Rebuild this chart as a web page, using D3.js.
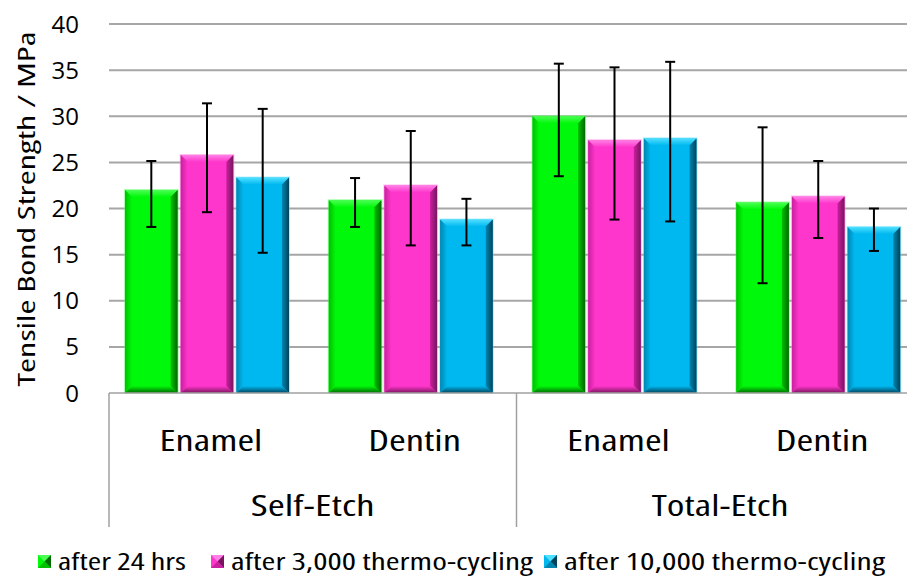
<!DOCTYPE html>
<html><head><meta charset="utf-8">
<script src="https://cdn.jsdelivr.net/npm/d3@7"></script>
<style>body{margin:0;background:#fff}svg{display:block}text{font-family:'Open Sans',sans-serif;font-stretch:80%;font-weight:400;fill:#000}</style>
</head><body><svg id="c" width="907" height="579"></svg>
<script>
const groups = ["Self-Etch", "Total-Etch"];
const categories = ["Enamel", "Dentin", "Enamel", "Dentin"];
const categoryGroup = ["Self-Etch", "Self-Etch", "Total-Etch", "Total-Etch"];
const series = ["after 24 hrs", "after 3,000 thermo-cycling", "after 10,000 thermo-cycling"];
const after24 = [22.0, 20.9, 30.0, 20.65];
const after3000 = [25.8, 22.5, 27.4, 21.3];
const after10000 = [23.35, 18.8, 27.6, 18.0];
const errHigh24 = [25.15, 23.3, 35.7, 28.8];
const errLow24 = [18.0, 18.0, 23.5, 11.9];
const errHigh3000 = [31.4, 28.4, 35.3, 25.15];
const errLow3000 = [19.6, 16.0, 18.8, 16.8];
const errHigh10000 = [30.8, 21.05, 35.9, 20.0];
const errLow10000 = [15.2, 16.0, 18.6, 15.4];
const yTicks = [0, 5, 10, 15, 20, 25, 30, 35, 40];

(function(){
const values = [after24, after3000, after10000];
const highs = [errHigh24, errHigh3000, errHigh10000];
const lows = [errLow24, errLow3000, errLow10000];
const colors = [
  {base:"#00f80a", light:"#4dff55", dark:"#006a00", mid:"#00c000"},
  {base:"#ff36cc", light:"#ff80e6", dark:"#7a145e", mid:"#c8209e"},
  {base:"#00b8f0", light:"#4fe0ff", dark:"#00435c", mid:"#0086b0"}
];

const svg = d3.select("#c");
const defs = svg.append("defs");
colors.forEach((c,i)=>{
  const gr = defs.append("linearGradient").attr("id","gr"+i).attr("x1",0).attr("x2",1).attr("y1",0).attr("y2",0);
  gr.append("stop").attr("offset","0%").attr("stop-color",c.mid);
  gr.append("stop").attr("offset","100%").attr("stop-color",c.dark);
  const gl = defs.append("linearGradient").attr("id","gl"+i).attr("x1",0).attr("x2",1).attr("y1",0).attr("y2",0);
  gl.append("stop").attr("offset","0%").attr("stop-color",c.mid);
  gl.append("stop").attr("offset","100%").attr("stop-color",c.base);
  const gt = defs.append("linearGradient").attr("id","gt"+i).attr("x1",0).attr("x2",0).attr("y1",0).attr("y2",1);
  gt.append("stop").attr("offset","0%").attr("stop-color",c.light);
  gt.append("stop").attr("offset","100%").attr("stop-color",c.base);
  const gb = defs.append("linearGradient").attr("id","gb"+i).attr("x1",0).attr("x2",0).attr("y1",0).attr("y2",1);
  gb.append("stop").attr("offset","0%").attr("stop-color",c.base);
  gb.append("stop").attr("offset","100%").attr("stop-color",c.dark);
});

const pLeft = 109, pRight = 924, pTop = 24, pBottom = 393;
const y = d3.scaleLinear().domain([0, 40]).range([pBottom, pTop]);
const x0 = d3.scaleBand().domain(d3.range(categories.length)).range([pLeft, pRight]).padding(0);
const x1 = d3.scaleBand().domain(d3.range(series.length)).range([16, 180]).paddingInner(0.055);

// gridlines
svg.append("g").selectAll("line").data(yTicks.filter(d=>d>0)).join("line")
  .attr("x1", pLeft).attr("x2", 907).attr("y1", d=>y(d)).attr("y2", d=>y(d))
  .attr("stroke", "#a6a6a6").attr("stroke-width", 2);

// y tick labels
svg.append("g").selectAll("text").data(yTicks).join("text")
  .attr("x", 79).attr("y", d=>y(d)+8.5).attr("text-anchor","end")
  .style("font-stretch","95%").attr("font-size", 24).text(d=>d);

// y title
svg.append("text").attr("transform","translate(35,209) rotate(-90)")
  .attr("text-anchor","middle").attr("font-size",23)
  .attr("textLength",355).attr("lengthAdjust","spacingAndGlyphs")
  .text("Tensile Bond Strength / MPa");

// bars
const bars = svg.append("g");
const pts = a => a.map(p=>p.join(",")).join(" ");
series.forEach((s, si)=>{
  categories.forEach((cat, ci)=>{
    const bx = x0(ci) + x1(si), bw = x1.bandwidth();
    const by = y(values[si][ci]), bh = y(0) - by;
    const b = 7;
    const g = bars.append("g");
    g.append("rect").attr("x",bx-0.5).attr("y",by-0.5).attr("width",bw+1).attr("height",bh+0.5)
      .attr("fill","none").attr("stroke",colors[si].light).attr("stroke-opacity",0.5).attr("stroke-width",1);
    g.append("rect").attr("x",bx).attr("y",by).attr("width",bw).attr("height",bh).attr("fill",colors[si].base);
    g.append("polygon").attr("points", pts([[bx,by],[bx+bw,by],[bx+bw-b,by+b],[bx+b,by+b]])).attr("fill","url(#gt"+si+")");
    g.append("polygon").attr("points", pts([[bx,by],[bx+b,by+b],[bx+b,by+bh-b],[bx,by+bh]])).attr("fill","url(#gl"+si+")");
    g.append("polygon").attr("points", pts([[bx+bw,by],[bx+bw,by+bh],[bx+bw-b,by+bh-b],[bx+bw-b,by+b]])).attr("fill","url(#gr"+si+")");
    g.append("polygon").attr("points", pts([[bx,by+bh],[bx+bw,by+bh],[bx+bw-b,by+bh-b],[bx+b,by+bh-b]])).attr("fill","url(#gb"+si+")");
  });
});

// error bars
const eb = svg.append("g").attr("stroke","#000").attr("stroke-width",2);
series.forEach((s, si)=>{
  categories.forEach((cat, ci)=>{
    const cx = x0(ci) + x1(si) + x1.bandwidth()/2;
    const yh = y(highs[si][ci]), yl = y(lows[si][ci]);
    eb.append("line").attr("x1",cx).attr("x2",cx).attr("y1",yh).attr("y2",yl);
    eb.append("line").attr("x1",cx-5).attr("x2",cx+5).attr("y1",yh).attr("y2",yh);
    eb.append("line").attr("x1",cx-5).attr("x2",cx+5).attr("y1",yl).attr("y2",yl);
  });
});

// category axis
const ax = svg.append("g").attr("stroke","#a0a0a0").attr("stroke-width",1.5);
ax.append("line").attr("x1",pLeft).attr("x2",907).attr("y1",pBottom).attr("y2",pBottom);
[0, 2, 4].forEach(i=>{
  const xx = i < categories.length ? x0(i) : pRight;
  ax.append("line").attr("x1",xx).attr("x2",xx).attr("y1",pBottom).attr("y2",527);
});
const catLen = {"Enamel":103, "Dentin":93};
svg.append("g").selectAll("text").data(categories).join("text")
  .attr("x",(d,i)=>x0(i)+x0.bandwidth()/2).attr("y",451).attr("text-anchor","middle")
  .attr("font-size",29).attr("textLength",d=>catLen[d]).attr("lengthAdjust","spacingAndGlyphs").text(d=>d);
const grpLen = {"Self-Etch":124, "Total-Etch":137};
svg.append("g").selectAll("text").data(groups).join("text")
  .attr("x",(d,i)=>x0(i*2)+x0.bandwidth()).attr("y",516).attr("text-anchor","middle")
  .attr("font-size",29).attr("textLength",d=>grpLen[d]).attr("lengthAdjust","spacingAndGlyphs").text(d=>d);

// legend
const legX = [38, 211, 544];
const legLen = [128, 302, 321];
const lg = svg.append("g");
series.forEach((s, si)=>{
  const lx = legX[si], ly = 555, sz = 13;
  lg.append("rect").attr("x",lx).attr("y",ly).attr("width",sz).attr("height",sz).attr("fill",colors[si].base);
  lg.append("polygon").attr("points",pts([[lx,ly],[lx+sz,ly],[lx+sz/2,ly+sz/2]])).attr("fill",colors[si].light);
  lg.append("polygon").attr("points",pts([[lx+sz,ly],[lx+sz,ly+sz],[lx+sz/2,ly+sz/2]])).attr("fill",colors[si].dark);
  lg.append("polygon").attr("points",pts([[lx,ly+sz],[lx+sz,ly+sz],[lx+sz/2,ly+sz/2]])).attr("fill",colors[si].mid);
  lg.append("text").attr("x",lx+20).attr("y",570).attr("font-size",23)
    .attr("textLength",legLen[si]).attr("lengthAdjust","spacingAndGlyphs").text(s);
});
})();
</script></body></html>
